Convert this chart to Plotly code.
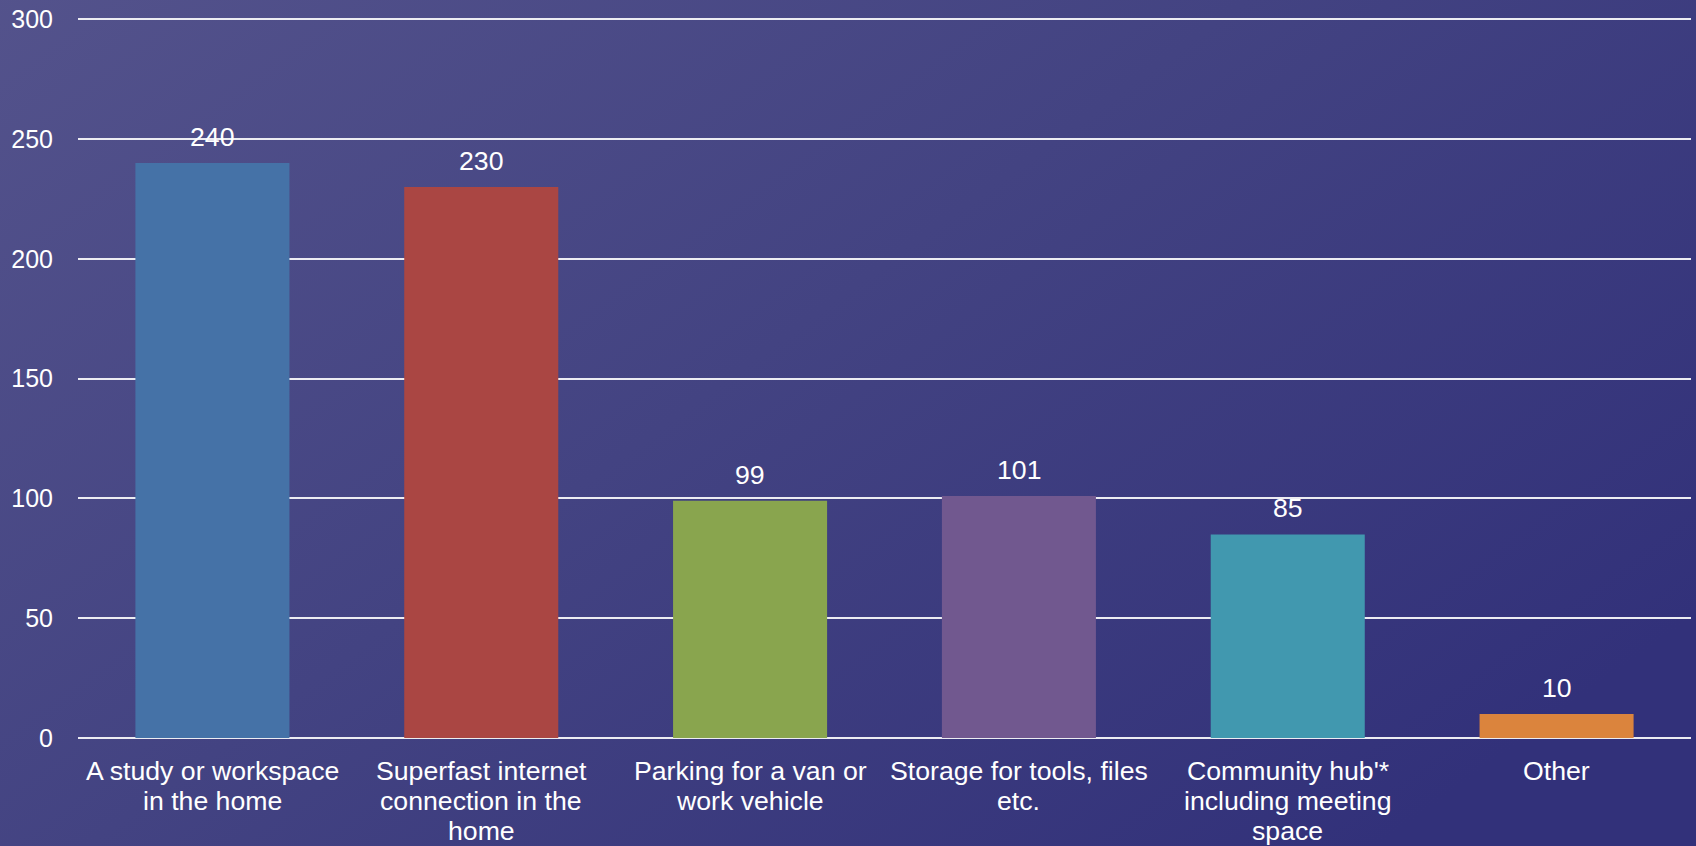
import base64
import plotly.graph_objects as go

categories = [
    "A study or workspace<br>in the home",
    "Superfast internet<br>connection in the<br>home",
    "Parking for a van or<br>work vehicle",
    "Storage for tools, files<br>etc.",
    "Community hub'*<br>including meeting<br>space",
    "Other",
]
values = [240, 230, 99, 101, 85, 10]
bar_colors = ["#4572A7", "#AA4643", "#89A54E", "#71588F", "#4198AF", "#DB843D"]
y_ticks = [0, 50, 100, 150, 200, 250, 300]

W, H = 1696, 846
ML, MR, MT, MB = 78, 5, 17, 108
PW, PH = W - ML - MR, H - MT - MB
FONT = "Liberation Sans, Arial, sans-serif"
LABEL_SIZE = 26.67
LINE_PITCH = 30.4
FIRST_LINE_OFFSET = 32.5

svg = (
    '<svg xmlns="http://www.w3.org/2000/svg" width="{w}" height="{h}" viewBox="0 0 {w} {h}" preserveAspectRatio="none">'
    '<defs><linearGradient id="g" x1="0" y1="0" x2="1" y2="0.7">'
    '<stop offset="0" stop-color="#54538c"/>'
    '<stop offset="0.5" stop-color="#434382"/>'
    '<stop offset="1" stop-color="#32317a"/>'
    '</linearGradient></defs>'
    '<rect width="{w}" height="{h}" fill="url(#g)"/></svg>'
).format(w=W, h=H)
bg_src = "data:image/svg+xml;base64," + base64.b64encode(svg.encode()).decode()

OV = 20  # overshoot in px so the background covers the whole page

fig = go.Figure(
    go.Bar(
        x=categories,
        y=values,
        marker=dict(color=bar_colors, line=dict(width=0)),
        cliponaxis=False,
        width=0.573,
        hoverinfo="y",
    )
)

annotations = [
    dict(
        x=c,
        y=v,
        xref="x",
        yref="y",
        text=str(v),
        showarrow=False,
        yanchor="bottom",
        yshift=9,
        font=dict(family=FONT, size=LABEL_SIZE, color="#ffffff"),
    )
    for c, v in zip(categories, values)
]

# category labels, one annotation per line to match the tighter line spacing
for c in categories:
    for i, line in enumerate(c.split("<br>")):
        annotations.append(
            dict(
                x=c,
                y=0,
                xref="x",
                yref="paper",
                text=line,
                showarrow=False,
                yanchor="middle",
                yshift=-(FIRST_LINE_OFFSET + i * LINE_PITCH),
                font=dict(family=FONT, size=LABEL_SIZE, color="#ffffff"),
            )
        )

fig.update_layout(
    width=W,
    height=H,
    margin=dict(l=ML, r=MR, t=MT, b=MB, pad=0),
    paper_bgcolor="#3a3a7e",
    plot_bgcolor="rgba(0,0,0,0)",
    showlegend=False,
    font=dict(family=FONT, size=25, color="#ffffff"),
    annotations=annotations,
    images=[
        dict(
            source=bg_src,
            xref="paper",
            yref="paper",
            x=-(ML + OV) / PW,
            y=1 + (MT + OV) / PH,
            sizex=(W + 2 * OV) / PW,
            sizey=(H + 2 * OV) / PH,
            xanchor="left",
            yanchor="top",
            sizing="stretch",
            layer="below",
        )
    ],
    xaxis=dict(
        showgrid=False,
        showline=False,
        zeroline=False,
        showticklabels=False,
        ticks="",
        automargin=False,
    ),
    yaxis=dict(
        range=[0, 301],
        tickvals=y_ticks,
        showgrid=True,
        gridcolor="#ececf2",
        gridwidth=2,
        zeroline=True,
        zerolinecolor="#ececf2",
        zerolinewidth=2,
        showline=False,
        ticks="",
        ticklabelstandoff=24,
        automargin=False,
        tickfont=dict(family=FONT, size=25, color="#ffffff"),
    ),
)

fig.write_html(
    "out.html",
    config={"displayModeBar": False},
    post_script="document.body.style.margin='0';document.body.style.overflow='hidden';",
)
